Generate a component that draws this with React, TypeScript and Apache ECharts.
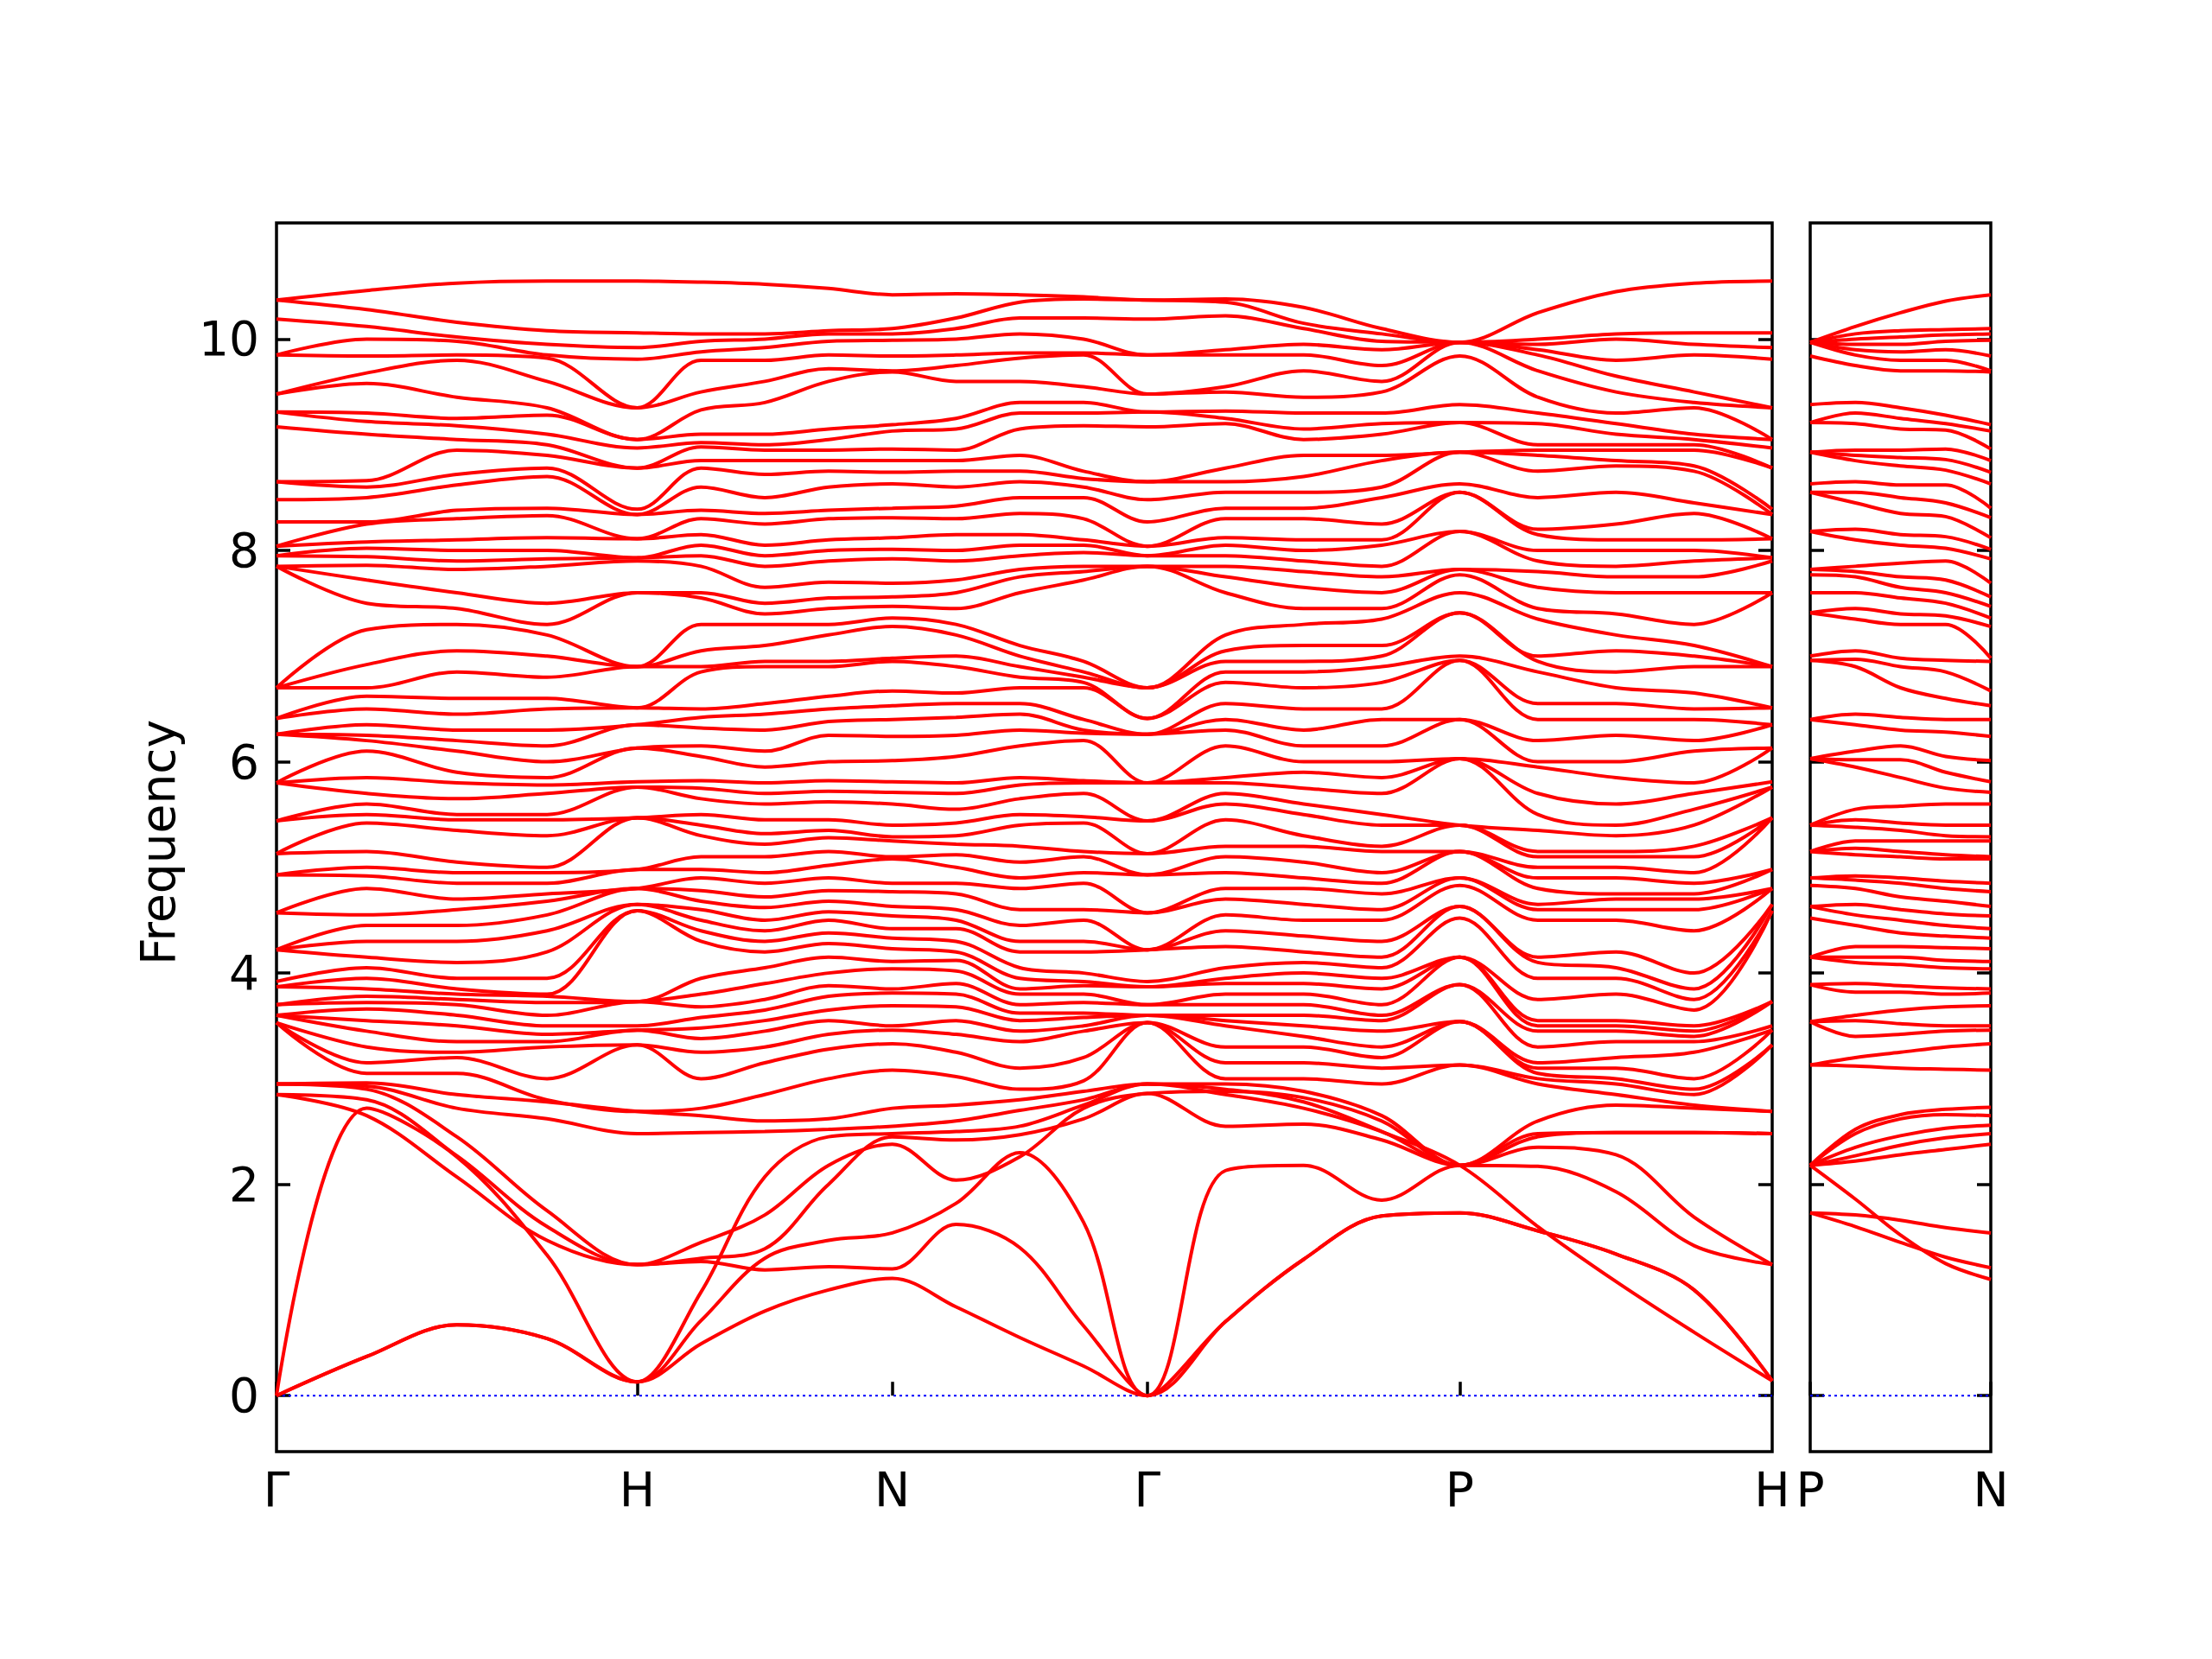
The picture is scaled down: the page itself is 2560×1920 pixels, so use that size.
import { useEffect, useRef } from 'react';
import * as echarts from 'echarts';

// ---- k-path (distance along path) ----
const kDist = [0, 0.25, 0.5, 0.75, 1.0, 1.1768, 1.3536, 1.5303, 1.7071, 1.8839, 2.0607, 2.2374, 2.4142, 2.6307, 2.8473, 3.0638, 3.2802, 3.4967, 3.7133, 3.9298, 4.1463];
const kTickPos = [0, 1.0, 1.7071, 2.4142, 3.2802, 4.1463];
const kTickLabels = ['Γ', 'H', 'N', 'Γ', 'P', 'H'];
const pnDist = [0, 0.125, 0.25, 0.375, 0.5];
const pnTickPos = [0, 0.5];
const pnTickLabels = ['P', 'N'];
const yTicks = [0, 2, 4, 6, 8, 10];

// ---- low-frequency bands (individual), main panel ----
const bandTA1 = [0, 0.37, 0.67, 0.54, 0.13, 0.49, 0.80, 1.0, 1.11, 0.84, 0.55, 0.28, 0, 0.70, 1.29, 1.70, 1.73, 1.56, 1.34, 1.0, 0.14];
const bandTA2 = [0, 0.37, 0.67, 0.54, 0.13, 0.71, 1.30, 1.47, 1.54, 1.82, 2.30, 1.64, 0, 0.70, 1.29, 1.70, 1.73, 1.56, 1.34, 1.0, 0.14];
const bandLA = [0, 2.72, 2.26, 1.33, 0.13, 0.98, 2.07, 2.45, 2.48, 2.50, 2.55, 2.75, 2.95, 2.90, 2.78, 2.50, 2.18, 1.60, 1.08, 0.60, 0.14];
const bandQ1 = [2.85, 2.65, 2.07, 1.47, 1.24, 1.27, 1.19, 1.22, 1.20, 1.62, 1.40, 0.66, 0, 2.13, 2.18, 1.85, 2.18, 2.17, 1.93, 1.42, 1.24];
const bandQ2 = [2.85, 2.80, 2.27, 1.60, 1.24, 1.30, 1.39, 2.00, 2.45, 2.42, 2.47, 2.62, 2.86, 2.55, 2.57, 2.42, 2.18, 2.35, 2.28, 1.69, 1.24];
const bandQ3 = [2.95, 2.90, 2.45, 1.75, 1.24, 1.45, 1.71, 2.18, 2.38, 2.04, 2.26, 2.72, 2.86, 2.88, 2.82, 2.60, 2.18, 2.48, 2.49, 2.49, 2.48];
const bandF1 = [2.95, 2.93, 2.72, 2.62, 2.48, 2.49, 2.50, 2.52, 2.55, 2.60, 2.70, 2.80, 2.95, 2.85, 2.72, 2.50, 2.18, 2.45, 2.49, 2.49, 2.48];
const bandF2 = [2.95, 2.96, 2.85, 2.78, 2.69, 2.65, 2.60, 2.62, 2.72, 2.75, 2.80, 2.88, 2.95, 2.95, 2.88, 2.65, 2.18, 2.60, 2.75, 2.72, 2.69];

// ---- upper bands: sorted frequencies read at each k-point column ----
const colG = [3.53, 3.53, 3.53, 3.60, 3.60, 3.60, 3.70, 3.70, 3.87, 3.87, 3.92, 4.22, 4.22, 4.22, 4.57, 4.57, 4.93, 4.93, 5.13, 5.13, 5.44, 5.44, 5.80, 5.80, 5.80, 6.26, 6.26, 6.26, 6.41, 6.41, 6.70, 6.70, 6.70, 7.85, 7.85, 7.85, 7.95, 7.95, 8.04, 8.04, 8.27, 8.48, 8.65, 8.65, 9.17, 9.31, 9.31, 9.48, 9.48, 9.85, 9.85, 10.19, 10.37, 10.37];
const colGH1 = [3.05, 3.15, 3.3, 3.45, 3.55, 3.66, 3.72, 3.78, 3.85, 3.95, 4.05, 4.15, 4.3, 4.45, 4.55, 4.8, 4.92, 5.0, 5.15, 5.42, 5.5, 5.6, 5.7, 5.85, 6.1, 6.2, 6.25, 6.35, 6.5, 6.62, 6.7, 6.92, 7.25, 7.5, 7.72, 7.86, 7.94, 8.02, 8.08, 8.25, 8.27, 8.5, 8.6, 8.66, 9.1, 9.22, 9.30, 9.58, 9.68, 9.84, 10.0, 10.12, 10.28, 10.46];
const colGH2 = [3.05, 3.2, 3.25, 3.35, 3.5, 3.6, 3.7, 3.75, 3.8, 3.85, 3.95, 4.1, 4.3, 4.45, 4.6, 4.7, 4.85, 4.95, 5.05, 5.35, 5.45, 5.5, 5.65, 5.8, 5.9, 6.1, 6.2, 6.3, 6.45, 6.6, 6.85, 7.05, 7.3, 7.45, 7.6, 7.82, 7.9, 8.0, 8.1, 8.3, 8.38, 8.62, 8.72, 8.95, 9.05, 9.18, 9.25, 9.45, 9.8, 9.85, 9.98, 10.02, 10.16, 10.53];
const colGH3 = [2.8, 3.0, 3.3, 3.35, 3.42, 3.5, 3.6, 3.72, 3.78, 3.8, 3.95, 4.2, 4.4, 4.55, 4.68, 4.75, 4.85, 4.95, 5.0, 5.3, 5.45, 5.5, 5.7, 5.78, 5.85, 6.0, 6.15, 6.3, 6.5, 6.6, 6.8, 7.0, 7.2, 7.3, 7.5, 7.85, 7.92, 8.0, 8.12, 8.33, 8.4, 8.7, 8.78, 8.9, 9.0, 9.1, 9.28, 9.35, 9.6, 9.82, 9.85, 9.95, 10.08, 10.55];
const colH = [2.69, 3.32, 3.32, 3.46, 3.46, 3.50, 3.73, 3.73, 3.73, 4.59, 4.59, 4.65, 4.65, 4.80, 4.80, 4.80, 4.98, 4.98, 5.47, 5.47, 5.47, 5.76, 5.76, 5.81, 6.13, 6.13, 6.35, 6.35, 6.51, 6.51, 6.90, 6.90, 6.90, 7.60, 7.60, 7.90, 7.93, 7.93, 8.11, 8.11, 8.34, 8.34, 8.39, 8.78, 8.78, 8.97, 9.05, 9.05, 9.35, 9.35, 9.81, 9.92, 10.06, 10.55];
const colHN1 = [2.72, 3.0, 3.25, 3.38, 3.48, 3.58, 3.68, 3.8, 3.95, 4.3, 4.4, 4.5, 4.6, 4.68, 4.78, 4.9, 4.98, 5.1, 5.3, 5.4, 5.5, 5.65, 5.75, 5.82, 6.05, 6.15, 6.32, 6.42, 6.5, 6.85, 6.9, 7.05, 7.3, 7.55, 7.6, 7.85, 7.95, 8.05, 8.15, 8.3, 8.38, 8.6, 8.78, 8.85, 8.98, 9.02, 9.1, 9.33, 9.5, 9.8, 9.88, 9.98, 10.05, 10.54];
const colHN2 = [2.85, 3.15, 3.3, 3.45, 3.55, 3.65, 3.75, 3.9, 4.05, 4.2, 4.3, 4.4, 4.5, 4.62, 4.72, 4.85, 4.95, 5.1, 5.22, 5.32, 5.45, 5.6, 5.7, 5.8, 5.95, 6.1, 6.3, 6.45, 6.55, 6.9, 6.95, 7.1, 7.3, 7.4, 7.5, 7.65, 7.85, 7.95, 8.05, 8.25, 8.35, 8.5, 8.72, 8.85, 8.95, 9.0, 9.1, 9.4, 9.6, 9.8, 9.92, 10.0, 10.05, 10.52];
const colHN3 = [3.0, 3.28, 3.42, 3.55, 3.65, 3.78, 3.88, 4.0, 4.15, 4.28, 4.38, 4.5, 4.58, 4.68, 4.78, 4.9, 5.02, 5.15, 5.28, 5.35, 5.45, 5.62, 5.72, 5.82, 6.0, 6.25, 6.38, 6.5, 6.62, 6.9, 6.95, 7.2, 7.3, 7.45, 7.55, 7.7, 7.9, 8.0, 8.1, 8.3, 8.38, 8.6, 8.75, 8.85, 8.95, 9.05, 9.15, 9.6, 9.72, 9.85, 9.98, 10.05, 10.08, 10.48];
const colN = [3.08, 3.33, 3.46, 3.50, 3.69, 3.81, 3.85, 4.04, 4.11, 4.23, 4.33, 4.42, 4.54, 4.63, 4.77, 4.85, 5.08, 5.10, 5.25, 5.29, 5.40, 5.60, 5.71, 5.81, 6.01, 6.24, 6.40, 6.53, 6.67, 6.95, 6.98, 7.28, 7.36, 7.47, 7.56, 7.69, 7.92, 8.01, 8.12, 8.31, 8.40, 8.63, 8.74, 8.85, 8.96, 9.13, 9.19, 9.69, 9.70, 9.84, 9.99, 10.05, 10.10, 10.42];
const colNG1 = [3.02, 3.25, 3.42, 3.55, 3.68, 3.8, 3.9, 4.02, 4.12, 4.2, 4.3, 4.42, 4.5, 4.6, 4.75, 4.85, 5.0, 5.12, 5.22, 5.3, 5.42, 5.55, 5.7, 5.8, 6.05, 6.25, 6.42, 6.55, 6.65, 6.9, 7.0, 7.2, 7.3, 7.45, 7.6, 7.72, 7.9, 8.0, 8.15, 8.3, 8.42, 8.6, 8.75, 8.85, 8.95, 9.15, 9.25, 9.6, 9.75, 9.85, 10.0, 10.1, 10.2, 10.43];
const colNG2 = [2.9, 3.1, 3.35, 3.45, 3.55, 3.62, 3.7, 3.8, 3.85, 3.95, 4.05, 4.2, 4.3, 4.45, 4.6, 4.8, 4.9, 5.05, 5.2, 5.4, 5.5, 5.65, 5.78, 5.85, 6.15, 6.3, 6.45, 6.55, 6.7, 6.8, 6.9, 7.0, 7.1, 7.6, 7.75, 7.82, 7.95, 8.05, 8.15, 8.35, 8.5, 8.65, 8.75, 8.9, 9.15, 9.3, 9.4, 9.6, 9.82, 9.87, 10.05, 10.2, 10.35, 10.42];
const colNG3 = [2.98, 3.2, 3.45, 3.5, 3.58, 3.62, 3.72, 3.8, 3.88, 3.92, 4.0, 4.2, 4.3, 4.5, 4.6, 4.85, 4.95, 5.1, 5.15, 5.42, 5.48, 5.7, 5.8, 5.82, 6.2, 6.27, 6.3, 6.4, 6.7, 6.75, 6.8, 6.85, 6.95, 7.72, 7.8, 7.85, 7.98, 8.05, 8.1, 8.3, 8.5, 8.6, 8.68, 8.75, 9.18, 9.3, 9.4, 9.55, 9.85, 9.87, 10.0, 10.2, 10.38, 10.4];
const colGP1 = [3.0, 3.15, 3.3, 3.5, 3.55, 3.6, 3.7, 3.8, 3.9, 3.95, 4.05, 4.25, 4.4, 4.55, 4.7, 4.8, 4.95, 5.1, 5.2, 5.45, 5.6, 5.7, 5.8, 5.85, 6.15, 6.3, 6.4, 6.55, 6.75, 6.85, 6.95, 7.05, 7.2, 7.6, 7.75, 7.85, 7.95, 8.05, 8.12, 8.3, 8.4, 8.55, 8.65, 8.78, 9.2, 9.25, 9.32, 9.5, 9.55, 9.85, 9.9, 10.22, 10.35, 10.38];
const colGP2 = [3.0, 3.15, 3.3, 3.4, 3.5, 3.6, 3.7, 3.8, 3.9, 4.0, 4.1, 4.2, 4.35, 4.5, 4.65, 4.8, 4.9, 5.05, 5.2, 5.3, 5.5, 5.6, 5.75, 5.9, 6.0, 6.15, 6.3, 6.5, 6.7, 6.85, 6.95, 7.1, 7.3, 7.45, 7.65, 7.8, 7.9, 8.0, 8.1, 8.3, 8.4, 8.55, 8.7, 8.9, 9.05, 9.15, 9.3, 9.45, 9.7, 9.85, 9.95, 10.1, 10.15, 10.3];
const colGP3 = [2.95, 3.1, 3.2, 3.3, 3.45, 3.55, 3.6, 3.7, 3.85, 3.95, 4.05, 4.15, 4.3, 4.5, 4.6, 4.75, 4.85, 4.95, 5.15, 5.2, 5.4, 5.5, 5.7, 5.85, 6.0, 6.15, 6.4, 6.5, 6.75, 6.9, 7.0, 7.1, 7.35, 7.45, 7.6, 7.75, 7.85, 8.05, 8.1, 8.25, 8.5, 8.6, 8.85, 8.9, 9.1, 9.2, 9.3, 9.5, 9.6, 9.75, 9.9, 9.98, 10.05, 10.1];
const colP = [3.13, 3.13, 3.54, 3.54, 3.54, 3.89, 3.89, 4.15, 4.15, 4.15, 4.52, 4.63, 4.63, 4.83, 4.90, 4.90, 5.15, 5.15, 5.15, 5.40, 5.40, 5.40, 6.03, 6.03, 6.03, 6.40, 6.40, 6.96, 6.96, 7.00, 7.41, 7.41, 7.60, 7.77, 7.82, 7.82, 8.18, 8.18, 8.55, 8.55, 8.63, 8.93, 8.93, 8.93, 9.21, 9.21, 9.38, 9.84, 9.97, 9.97, 9.97, 9.97, 9.97, 9.97];
const colPH1 = [2.95, 3.0, 3.05, 3.1, 3.15, 3.3, 3.45, 3.5, 3.55, 3.75, 3.95, 4.1, 4.15, 4.5, 4.6, 4.65, 4.8, 4.9, 5.0, 5.1, 5.15, 5.35, 5.5, 5.7, 5.95, 6.0, 6.2, 6.4, 6.55, 6.85, 6.95, 7.0, 7.35, 7.45, 7.65, 7.8, 7.9, 8.0, 8.15, 8.2, 8.5, 8.75, 8.9, 8.95, 9.0, 9.2, 9.3, 9.45, 9.7, 9.85, 9.9, 9.95, 10.0, 10.25];
const colPH2 = [2.85, 2.95, 3.0, 3.1, 3.2, 3.35, 3.45, 3.5, 3.55, 3.8, 3.95, 4.05, 4.2, 4.5, 4.6, 4.7, 4.75, 4.9, 5.0, 5.1, 5.15, 5.3, 5.4, 5.6, 5.85, 6.0, 6.25, 6.4, 6.55, 6.7, 6.85, 7.05, 7.2, 7.4, 7.6, 7.75, 7.85, 8.0, 8.1, 8.25, 8.55, 8.8, 8.85, 8.95, 9.0, 9.1, 9.2, 9.3, 9.5, 9.65, 9.8, 10.0, 10.05, 10.45];
const colPH3 = [2.75, 2.85, 2.9, 3.0, 3.25, 3.35, 3.4, 3.45, 3.5, 3.65, 3.75, 3.85, 4.0, 4.4, 4.6, 4.7, 4.75, 4.85, 4.95, 5.1, 5.2, 5.4, 5.55, 5.7, 5.8, 6.1, 6.2, 6.4, 6.5, 6.65, 6.9, 7.0, 7.1, 7.3, 7.6, 7.75, 7.9, 8.0, 8.1, 8.35, 8.45, 8.75, 8.8, 8.95, 9.0, 9.05, 9.1, 9.35, 9.4, 9.5, 9.85, 9.95, 10.06, 10.53];

// ---- second panel (P -> N) ----
const pnLowB1 = [1.73, 1.71, 1.66, 1.59, 1.54];
const pnLowB2 = [1.73, 1.60, 1.45, 1.31, 1.21];
const pnLowB3 = [2.18, 1.86, 1.52, 1.25, 1.10];
const pnLowB4 = [2.18, 2.22, 2.28, 2.33, 2.38];
const pnLowB5 = [2.18, 2.27, 2.37, 2.44, 2.48];
const pnLowB6 = [2.18, 2.35, 2.46, 2.53, 2.56];
const pnLowB7 = [2.18, 2.48, 2.62, 2.66, 2.65];
const pnLowB8 = [2.18, 2.52, 2.66, 2.71, 2.73];
const pnCol1 = [3.12, 3.2, 3.4, 3.55, 3.6, 3.82, 3.9, 4.1, 4.15, 4.25, 4.45, 4.55, 4.65, 4.8, 4.88, 4.92, 5.12, 5.18, 5.25, 5.38, 5.45, 5.55, 5.95, 6.02, 6.1, 6.35, 6.45, 6.9, 6.97, 7.05, 7.35, 7.45, 7.6, 7.75, 7.8, 7.85, 8.1, 8.2, 8.45, 8.55, 8.65, 8.85, 8.9, 8.95, 9.2, 9.3, 9.4, 9.75, 9.85, 9.9, 9.95, 10.0, 10.05, 10.12];
const pnCol2 = [3.1, 3.25, 3.42, 3.52, 3.65, 3.82, 3.88, 4.08, 4.15, 4.25, 4.38, 4.5, 4.6, 4.72, 4.85, 4.9, 5.1, 5.15, 5.25, 5.35, 5.42, 5.58, 5.85, 6.02, 6.15, 6.3, 6.42, 6.7, 6.9, 6.98, 7.3, 7.4, 7.55, 7.65, 7.75, 7.88, 8.05, 8.15, 8.35, 8.5, 8.62, 8.8, 8.88, 8.95, 9.15, 9.25, 9.35, 9.7, 9.8, 9.88, 9.95, 10.02, 10.08, 10.25];
const pnCol3 = [3.09, 3.3, 3.45, 3.5, 3.68, 3.8, 3.86, 4.05, 4.12, 4.24, 4.35, 4.45, 4.56, 4.68, 4.8, 4.87, 5.08, 5.12, 5.25, 5.3, 5.4, 5.6, 5.75, 5.9, 6.05, 6.28, 6.4, 6.6, 6.85, 6.96, 7.3, 7.38, 7.5, 7.6, 7.72, 7.9, 8.02, 8.13, 8.32, 8.45, 8.62, 8.76, 8.86, 8.96, 9.14, 9.2, 9.28, 9.7, 9.8, 9.9, 9.98, 10.04, 10.09, 10.36];

const FONT = '"DejaVu Sans", sans-serif';
const FRAME = 3.5;
const RED = '#ff0000';

function nearestLabel(v: number, pos: number[], labels: string[]) {
  let best = 0;
  for (let i = 1; i < pos.length; i++) if (Math.abs(pos[i] - v) < Math.abs(pos[best] - v)) best = i;
  return Math.abs(pos[best] - v) < 1e-3 ? labels[best] : '';
}

function buildOption() {
  const lowBands = [bandTA1, bandTA2, bandLA, bandQ1, bandQ2, bandQ3, bandF1, bandF2];
  const upperCols = [colG, colGH1, colGH2, colGH3, colH, colHN1, colHN2, colHN3, colN, colNG1, colNG2, colNG3, colG, colGP1, colGP2, colGP3, colP, colPH1, colPH2, colPH3, colH];
  const pnLow = [pnLowB1, pnLowB2, pnLowB3, pnLowB4, pnLowB5, pnLowB6, pnLowB7, pnLowB8];
  const pnCols = [colP, pnCol1, pnCol2, pnCol3, colN];

  const series: any[] = [];
  const kEnd = kDist[kDist.length - 1];
  series.push({
    type: 'line', xAxisIndex: 0, yAxisIndex: 0, silent: true, showSymbol: false, z: 1,
    data: [[0, 0], [kEnd, 0]], lineStyle: { color: '#0000ff', width: 2, type: [3, 4] },
  });
  series.push({
    type: 'line', xAxisIndex: 1, yAxisIndex: 2, silent: true, showSymbol: false, z: 1,
    data: [[0, 0], [pnDist[pnDist.length - 1], 0]], lineStyle: { color: '#0000ff', width: 2, type: [3, 4] },
  });
  const redLine = (xi: number, yi: number, data: number[][]) => ({
    type: 'line', xAxisIndex: xi, yAxisIndex: yi, silent: true, showSymbol: false, smooth: 0.35, z: 2,
    data, lineStyle: { color: RED, width: 4 },
  });
  lowBands.forEach((b) => series.push(redLine(0, 0, b.map((v, j) => [kDist[j], v]))));
  const nUpper = colG.length;
  for (let i = 0; i < nUpper; i++) {
    series.push(redLine(0, 0, upperCols.map((c, j) => [kDist[j], c[i]])));
  }
  pnLow.forEach((b) => series.push(redLine(1, 2, b.map((v, j) => [pnDist[j], v]))));
  for (let i = 0; i < nUpper; i++) {
    series.push(redLine(1, 2, pnCols.map((c, j) => [pnDist[j], c[i]])));
  }

  const tickStyle = { show: true, inside: true, length: 16, lineStyle: { color: '#000', width: FRAME } };
  const labelFont = { fontSize: 55, fontFamily: FONT, color: '#000' };
  const yBase = (gridIndex: number, position: string, showLabel: boolean) => ({
    type: 'value', gridIndex, position, min: -0.53, max: 11.1,
    axisLine: { show: false }, splitLine: { show: false },
    axisTick: { ...tickStyle, customValues: yTicks },
    axisLabel: { show: showLabel, customValues: yTicks, margin: 20, ...labelFont },
  });

  return {
    animation: false,
    backgroundColor: '#ffffff',
    grid: [
      { left: 320, top: 258, width: 1731, height: 1422, show: true, borderColor: '#000', borderWidth: FRAME, backgroundColor: 'transparent' },
      { left: 2095, top: 258, width: 209, height: 1422, show: true, borderColor: '#000', borderWidth: FRAME, backgroundColor: 'transparent' },
    ],
    xAxis: [
      {
        type: 'value', gridIndex: 0, min: 0, max: kEnd,
        axisLine: { show: false }, splitLine: { show: false },
        axisTick: { ...tickStyle, customValues: kTickPos },
        axisLabel: {
          show: true, customValues: kTickPos, showMinLabel: true, showMaxLabel: true, margin: 16, ...labelFont,
          formatter: (v: number) => nearestLabel(v, kTickPos, kTickLabels),
        },
      },
      {
        type: 'value', gridIndex: 1, min: 0, max: pnDist[pnDist.length - 1],
        axisLine: { show: false }, splitLine: { show: false },
        axisTick: { ...tickStyle, customValues: pnTickPos },
        axisLabel: {
          show: true, customValues: pnTickPos, showMinLabel: true, showMaxLabel: true, margin: 16, ...labelFont,
          formatter: (v: number) => nearestLabel(v, pnTickPos, pnTickLabels),
        },
      },
    ],
    yAxis: [
      yBase(0, 'left', true),
      yBase(0, 'right', false),
      yBase(1, 'left', false),
      yBase(1, 'right', false),
    ],
    graphic: [
      {
        type: 'text', x: 183, y: 975, rotation: Math.PI / 2,
        style: { text: 'Frequency', fontSize: 55, fontFamily: FONT, fill: '#000', align: 'center', verticalAlign: 'middle' },
      },
    ],
    series,
  };
}

export default function App() {
  const ref = useRef<HTMLDivElement>(null);
  useEffect(() => {
    if (!ref.current) return;
    const chart = echarts.init(ref.current, null, { renderer: 'svg' });
    chart.setOption(buildOption() as any);
    return () => chart.dispose();
  }, []);
  return (
    <div
      ref={ref}
      style={{ position: 'fixed', left: 0, top: 0, width: '2560px', height: '1920px', background: '#ffffff' }}
    />
  );
}
